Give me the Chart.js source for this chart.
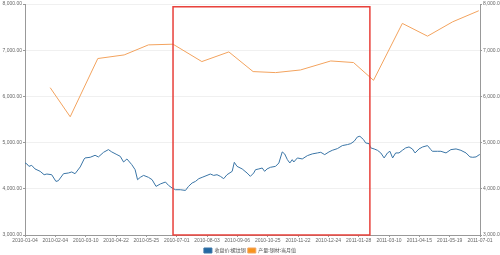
<!DOCTYPE html>
<html>
<head>
<meta charset="utf-8">
<script src="https://cdn.jsdelivr.net/npm/chart.js@4"></script>
<style>
  html, body { margin: 0; padding: 0; background: #fff; }
  #wrap { width: 500px; height: 255px; }
</style>
</head>
<body>
<div id="wrap"><canvas id="chart" width="500" height="255"></canvas></div>
<script>
// x axis labels, one per tick (position 0..15 on the axis)
const xTickLabels = [
  "2010-01-04", "2010-02-04", "2010-03-10", "2010-04-22", "2010-05-25", "2010-07-01",
  "2010-08-03", "2010-09-06", "2010-10-25", "2010-11-22", "2010-12-24", "2011-01-28",
  "2011-03-10", "2011-04-15", "2011-05-19", "2011-07-01"
];

// legend names
const seriesNames = ["收盘价:螺纹钢", "产量:钢材:当月值"];

// blue series: close price, position on the tick axis + value
const bluePos = [
  0, 0.06, 0.13, 0.22, 0.33, 0.50, 0.63, 0.72, 0.88, 1.02, 1.10, 1.27, 1.43, 1.54, 1.65,
  1.82, 1.95, 1.98, 2.15, 2.31, 2.42, 2.59, 2.75, 2.86, 3.03, 3.14, 3.25, 3.36, 3.52, 3.63,
  3.71, 3.80, 3.91, 4.07, 4.19, 4.32, 4.46, 4.63, 4.73, 4.85, 4.96, 5.12, 5.29, 5.39, 5.51,
  5.62, 5.73, 5.84, 6.00, 6.11, 6.22, 6.33, 6.44, 6.55, 6.66, 6.83, 6.90, 6.99, 7.16, 7.32,
  7.43, 7.54, 7.60, 7.71, 7.82, 7.90, 7.98, 8.09, 8.26, 8.37, 8.48, 8.56, 8.65, 8.73, 8.81,
  8.86, 8.98, 9.14, 9.31, 9.47, 9.64, 9.75, 9.88, 10.02, 10.13, 10.30, 10.46, 10.63, 10.74,
  10.85, 10.96, 11.04, 11.16, 11.23, 11.34, 11.40, 11.51, 11.62, 11.73, 11.84, 11.95, 12.03,
  12.12, 12.22, 12.33, 12.44, 12.55, 12.66, 12.77, 12.86, 12.99, 13.11, 13.27, 13.38, 13.43,
  13.60, 13.71, 13.88, 14.04, 14.21, 14.37, 14.54, 14.67, 14.76, 14.87, 14.98, 15
];
const blueVals = [
  4560, 4540, 4486, 4508, 4430, 4378, 4305, 4320, 4305, 4160, 4175, 4327, 4342, 4364, 4327,
  4473, 4646, 4668, 4682, 4725, 4690, 4790, 4848, 4798, 4740, 4703, 4580, 4646, 4523, 4414,
  4197, 4248, 4290, 4248, 4197, 4052, 4104, 4147, 4075, 4017, 3980, 3980, 3965, 4052, 4126,
  4160, 4219, 4248, 4290, 4320, 4290, 4305, 4270, 4219, 4305, 4378, 4573, 4486, 4430, 4342,
  4270, 4342, 4414, 4430, 4450, 4378, 4430, 4465, 4486, 4559, 4798, 4755, 4631, 4559, 4631,
  4580, 4668, 4646, 4718, 4755, 4776, 4790, 4740, 4798, 4833, 4870, 4935, 4957, 4978,
  5028, 5124, 5137, 5065, 4993, 4978, 4885, 4863, 4833, 4776, 4668, 4776, 4812,
  4668, 4776, 4776, 4833, 4885, 4906, 4863, 4776, 4863, 4906, 4935, 4848, 4812,
  4812, 4812, 4776, 4848, 4863, 4833, 4776, 4690, 4682, 4690, 4740, 4730
];

// orange series: monthly output
const orangePos = [0.83, 1.49, 2.40, 3.27, 4.07, 4.88, 5.83, 6.72, 7.52, 8.26, 9.08, 10.08, 10.83, 11.49, 12.44, 13.27, 14.10, 14.96];
const orangeVals = [6189, 5559, 6820, 6898, 7115, 7130, 6754, 6963, 6537, 6515, 6572, 6767, 6733, 6348, 7580, 7304, 7615, 7854];

// highlighted period (red box)
const boxRange = { x0: 4.88, x1: 11.37, yTop: 7940, yBottom: 3000 };

function fmt(v) {
  return Number(v).toLocaleString("en-US", { minimumFractionDigits: 2, maximumFractionDigits: 2 });
}

// draws the red box through the scales
const boxPlugin = {
  id: "box",
  afterDatasetsDraw(chart) {
    const xs = chart.scales.x;
    const ys = chart.scales.y;
    const ctx = chart.ctx;
    const left = xs.getPixelForValue(boxRange.x0);
    const right = xs.getPixelForValue(boxRange.x1);
    const top = ys.getPixelForValue(boxRange.yTop);
    const bottom = ys.getPixelForValue(boxRange.yBottom);
    ctx.save();
    ctx.strokeStyle = "#e8403a";
    ctx.lineWidth = 1.5;
    ctx.strokeRect(left, top, right - left, bottom - top);
    ctx.restore();
  }
};

const tickFont = { family: "Liberation Sans, Arial, sans-serif", size: 5 };

function yAxis(position, width, showGrid) {
  return {
    type: "linear",
    position,
    min: 3000,
    max: 8000,
    ticks: { stepSize: 1000, font: tickFont, color: "#666", padding: 1, callback: fmt },
    grid: { display: true, drawOnChartArea: showGrid, color: "#f0f0f0", tickLength: 2, tickColor: "#999" },
    border: { display: true, color: "#999" },
    afterFit(scale) { scale.width = width; }
  };
}

new Chart(document.getElementById("chart"), {
  type: "line",
  data: {
    datasets: [
      {
        label: seriesNames[0],
        data: bluePos.map((x, i) => ({ x, y: blueVals[i] })),
        borderColor: "#3a75a6",
        backgroundColor: "#2369a3",
        borderWidth: 1,
        pointRadius: 0,
        tension: 0,
        yAxisID: "y"
      },
      {
        label: seriesNames[1],
        data: orangePos.map((x, i) => ({ x, y: orangeVals[i] })),
        borderColor: "#f3a35e",
        backgroundColor: "#f7941d",
        borderWidth: 1,
        pointRadius: 0,
        tension: 0,
        yAxisID: "y1"
      }
    ]
  },
  options: {
    responsive: false,
    animation: false,
    devicePixelRatio: 1,
    layout: { padding: { top: 3, left: 0, right: 0, bottom: -8 } },
    plugins: {
      legend: {
        display: true,
        position: "bottom",
        labels: {
          boxWidth: 8,
          boxHeight: 5,
          padding: 2,
          color: "#555",
          font: { family: "Noto Sans CJK SC", size: 5 }
        }
      },
      tooltip: { enabled: false }
    },
    scales: {
      x: {
        type: "linear",
        min: 0,
        max: 15,
        ticks: {
          stepSize: 1,
          autoSkip: false,
          maxRotation: 0,
          font: tickFont,
          color: "#666",
          padding: 1,
          callback: v => xTickLabels[v] ?? ""
        },
        grid: { display: true, drawOnChartArea: false, tickLength: 2, tickColor: "#999" },
        border: { display: true, color: "#999" },
        afterFit(scale) { scale.height = 11; }
      },
      y: yAxis("left", 25, true),
      y1: yAxis("right", 20, false)
    }
  },
  plugins: [boxPlugin]
});
</script>
</body>
</html>
